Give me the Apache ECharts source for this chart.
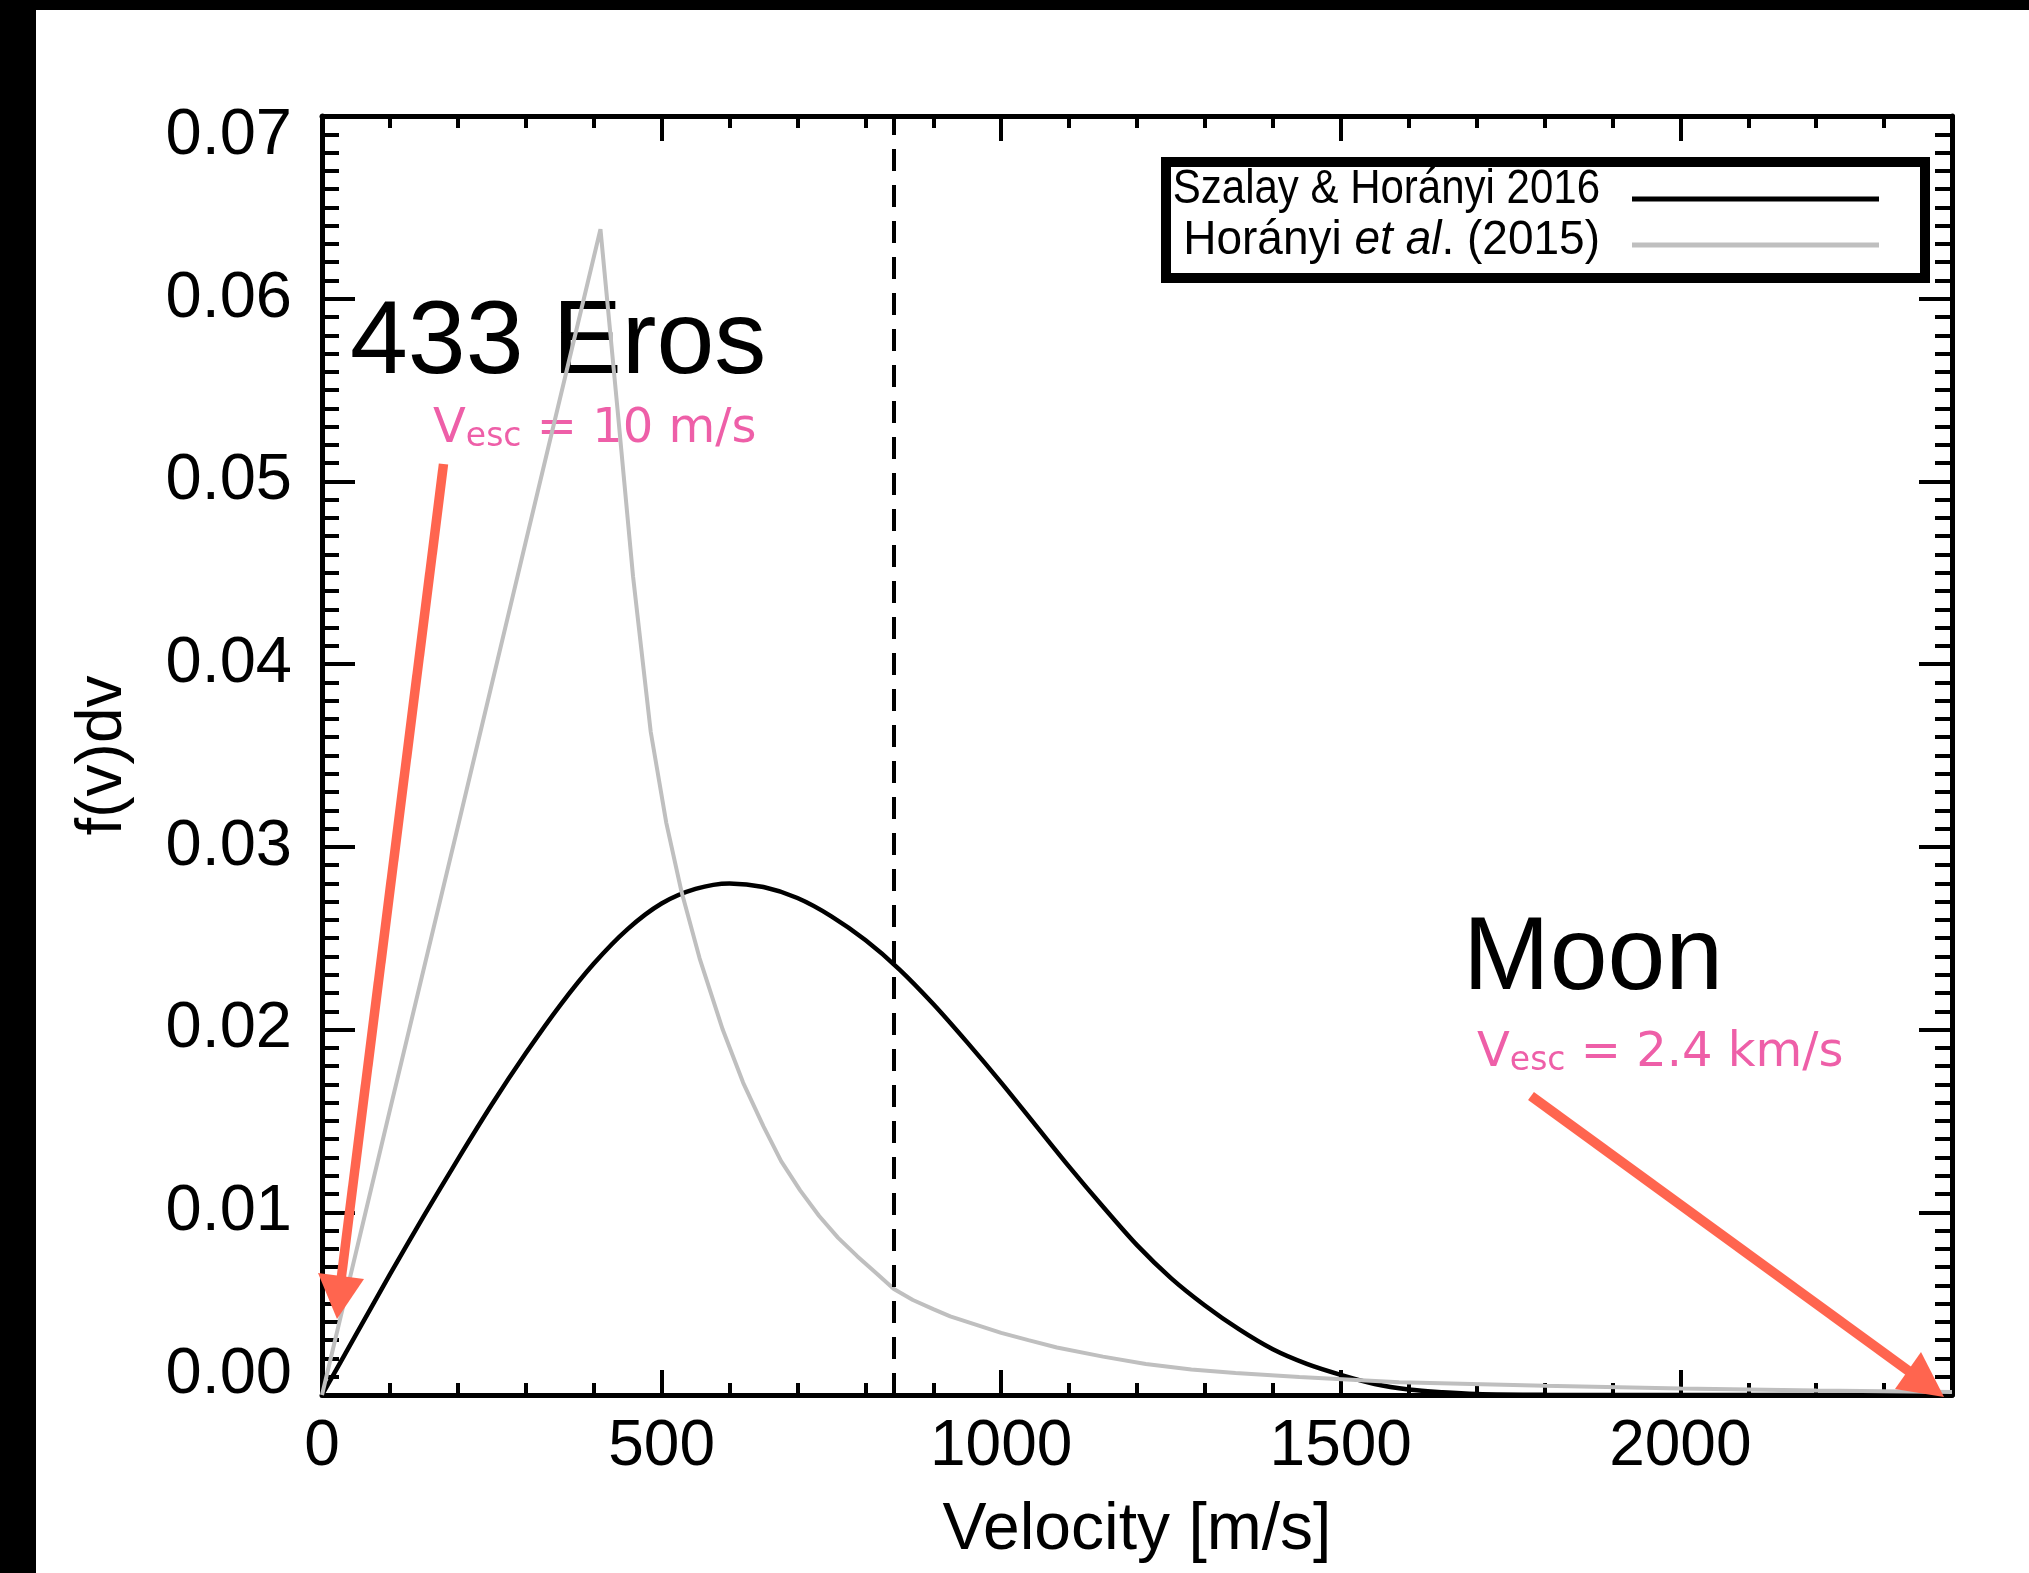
<!DOCTYPE html>
<html><head><meta charset="utf-8">
<script src="https://cdn.jsdelivr.net/npm/echarts@6/dist/echarts.min.js"></script>
<style>html,body{margin:0;padding:0;background:#fff}#c{width:2029px;height:1573px}</style>
</head><body><div id="c"></div>
<script>
// ---- data ----
const seriesNames = ['Szalay & Horányi 2016', 'Horányi et al. (2015)'];
const szalayV = [0,50,100,150,200,250,300,350,400,450,500,550,600,650,700,750,800,850,900,950,1000,1050,1100,1150,1200,1250,1300,1350,1400,1450,1500,1550,1600,1650,1700,1800,1900,2400];
const szalayF = [0,0.0033,0.0066,0.0098,0.0129,0.0159,0.0187,0.0213,0.0236,0.0255,0.0269,0.0277,0.0280,0.0278,0.0272,0.0262,0.0249,0.0233,0.0214,0.0193,0.0171,0.0148,0.0125,0.0103,0.0082,0.0064,0.0049,0.0036,0.0025,0.0017,0.0011,0.0006,0.0003,0.00015,0.00006,0.00001,0,0];
const horanyiV = [0,100,200,300,410,435,458,484,507,529,556,590,620,650,676,704,732,760,788,815,842,870,900,925,950,975,1000,1040,1082,1150,1213,1280,1345,1439,1586,1800,2000,2200,2400];
const horanyiF = [0,0.0156,0.0311,0.0467,0.0638,0.0540,0.0448,0.0363,0.0313,0.0276,0.0239,0.0200,0.0171,0.0147,0.0128,0.0112,0.0098,0.0086,0.0076,0.0067,0.0058,0.0052,0.0047,0.0043,0.0040,0.0037,0.0034,0.0030,0.0026,0.0021,0.0017,0.0014,0.0012,0.00098,0.0007,0.0005,0.00036,0.00025,0.00016];
const vescLineV = 842;
const xTickLabels = ['0','500','1000','1500','2000'];
const yTickLabels = ['0.00','0.01','0.02','0.03','0.04','0.05','0.06','0.07'];
const xTitle = 'Velocity [m/s]';
const yTitle = 'f(v)dv';

// ---- styles ----
const FONT = "'Liberation Sans', Arial, Helvetica, sans-serif";
const PINKFONT = "'DejaVu Sans', Verdana, sans-serif";
const PINK = '#ee5fa8';
const ARROW = '#ff654f';
const GREY = '#bfbfbf';

const zip = (a, b) => a.map((v, i) => [v, b[i]]);

function xAx(position, interval, tickLen, main) {
  return {
    type: 'value', position: position, min: 0, max: 2400, interval: interval,
    axisLine: { show: interval === 500, onZero: false, lineStyle: { color: '#000', width: 5 } },
    axisTick: { show: true, inside: true, length: tickLen, lineStyle: { color: '#000', width: 4 } },
    axisLabel: {
      show: !!main, margin: 20, color: '#000', fontSize: 64, fontFamily: FONT,
      formatter: v => { const i = v / 500; return Number.isInteger(i) && xTickLabels[i] !== undefined ? xTickLabels[i] : ''; }
    },
    splitLine: { show: false },
    name: main ? xTitle : '', nameLocation: 'middle', nameGap: 103,
    nameTextStyle: { fontSize: 66, color: '#000', fontFamily: FONT }
  };
}
const yLabStyle = { fontSize: 65, fontFamily: FONT, color: '#000' };
function yAx(position, main) {
  return {
    type: 'value', position: position, min: 0, max: 0.07, interval: 0.01,
    axisLine: { show: true, onZero: false, lineStyle: { color: '#000', width: 5 } },
    axisTick: { show: true, inside: true, length: 33, lineStyle: { color: '#000', width: 4 } },
    minorTick: { show: true, splitNumber: 10, length: 17, lineStyle: { color: '#000', width: 4 } },
    axisLabel: {
      show: !!main, margin: 30, color: '#000', fontSize: 65, fontFamily: FONT,
      formatter: v => {
        const i = Math.round(v / 0.01);
        if (i === 0) return '{lo|' + yTickLabels[i] + '}';
        if (i === yTickLabels.length - 1) return '{hi|' + yTickLabels[i] + '}';
        return yTickLabels[i];
      },
      rich: {
        lo: Object.assign({ padding: [0, 0, 40, 0] }, yLabStyle),
        hi: Object.assign({ padding: [40, 0, 0, 0] }, yLabStyle)
      }
    },
    splitLine: { show: false }, minorSplitLine: { show: false },
    name: main ? yTitle : '', nameLocation: 'middle', nameGap: 187, nameRotate: 90,
    nameTextStyle: { fontSize: 64, color: '#000', fontFamily: FONT }
  };
}

const chart = echarts.init(document.getElementById('c'), null, { renderer: 'canvas', width: 2029, height: 1573 });

const option = {
  backgroundColor: '#fff',
  animation: false,
  grid: { left: 322, top: 116, width: 1630, height: 1279, containLabel: false },
  xAxis: [xAx('bottom', 500, 25, true), xAx('bottom', 100, 12, false), xAx('top', 500, 25, false), xAx('top', 100, 12, false)],
  yAxis: [yAx('left', true), yAx('right', false)],
  series: [
    {
      name: seriesNames[0], type: 'line', xAxisIndex: 0, yAxisIndex: 0,
      data: zip(szalayV, szalayF), showSymbol: false, smooth: 0.3,
      lineStyle: { color: '#000', width: 4.5 }, z: 3,
      markLine: {
        silent: true, symbol: ['none', 'none'], label: { show: false },
        lineStyle: { color: '#000', width: 4, type: [22, 14] },
        emphasis: { disabled: true },
        data: [{ xAxis: vescLineV }]
      }
    },
    {
      name: seriesNames[1], type: 'line', xAxisIndex: 0, yAxisIndex: 0,
      data: zip(horanyiV, horanyiF), showSymbol: false, smooth: false,
      lineStyle: { color: GREY, width: 4 }, z: 4
    }
  ],
  graphic: [
    { type: 'rect', z: 50, shape: { x: 0, y: 0, width: 2029, height: 10 }, style: { fill: '#000' } },
    { type: 'rect', z: 50, shape: { x: 0, y: 0, width: 36, height: 1573 }, style: { fill: '#000' } },
    { type: 'text', z: 1, x: 350, y: 344, style: { text: '433 Eros', fontSize: 104, fontFamily: FONT, fill: '#000', align: 'left', verticalAlign: 'middle' } },
    { type: 'text', z: 1, x: 1463, y: 960, style: { text: 'Moon', fontSize: 104, fontFamily: FONT, fill: '#000', align: 'left', verticalAlign: 'middle' } },
    { type: 'text', z: 1, x: 433, y: 430, style: { text: 'V{s|esc} = 10 m/s', fontSize: 48, fontFamily: PINKFONT, fill: PINK, align: 'left', verticalAlign: 'middle',
        rich: { s: { fontSize: 33, fontFamily: PINKFONT, fill: PINK, verticalAlign: 'bottom' } } } },
    { type: 'text', z: 1, x: 1477, y: 1054, style: { text: 'V{s|esc} = 2.4 km/s', fontSize: 48, fontFamily: PINKFONT, fill: PINK, align: 'left', verticalAlign: 'middle',
        rich: { s: { fontSize: 33, fontFamily: PINKFONT, fill: PINK, verticalAlign: 'bottom' } } } },
    // arrows
    { type: 'line', z: 20, shape: { x1: 443.5, y1: 464, x2: 341, y2: 1280 }, style: { stroke: ARROW, lineWidth: 9.5 } },
    { type: 'polygon', z: 20, shape: { points: [[318, 1273], [364, 1279], [337, 1319]] }, style: { fill: ARROW } },
    { type: 'line', z: 20, shape: { x1: 1531, y1: 1096, x2: 1910, y2: 1372 }, style: { stroke: ARROW, lineWidth: 10 } },
    { type: 'polygon', z: 20, shape: { points: [[1895, 1389], [1921, 1352], [1944, 1397]] }, style: { fill: ARROW } },
    // legend
    { type: 'rect', z: 30, shape: { x: 1166, y: 162, width: 759, height: 116 }, style: { fill: '#fff', stroke: '#000', lineWidth: 10 } },
    { type: 'text', z: 31, x: 1600, y: 190, scaleY: 1.15, style: { text: seriesNames[0], fontSize: 42, fontFamily: FONT, fill: '#000', align: 'right', verticalAlign: 'middle' } },
    { type: 'text', z: 31, x: 1600, y: 241, scaleY: 1.05, style: { text: '{n|Horányi }{i|et al}{n|. (2015)}', fontSize: 46, fontFamily: FONT, fill: '#000', align: 'right', verticalAlign: 'middle',
        rich: { n: { fontSize: 46, fontFamily: FONT, fill: '#000' }, i: { fontSize: 46, fontFamily: FONT, fontStyle: 'italic', fill: '#000' } } } },
    { type: 'line', z: 31, shape: { x1: 1632, y1: 199, x2: 1879, y2: 199 }, style: { stroke: '#000', lineWidth: 5 } },
    { type: 'line', z: 31, shape: { x1: 1632, y1: 245, x2: 1879, y2: 245 }, style: { stroke: GREY, lineWidth: 5 } }
  ]
};
chart.setOption(option);
</script></body></html>
